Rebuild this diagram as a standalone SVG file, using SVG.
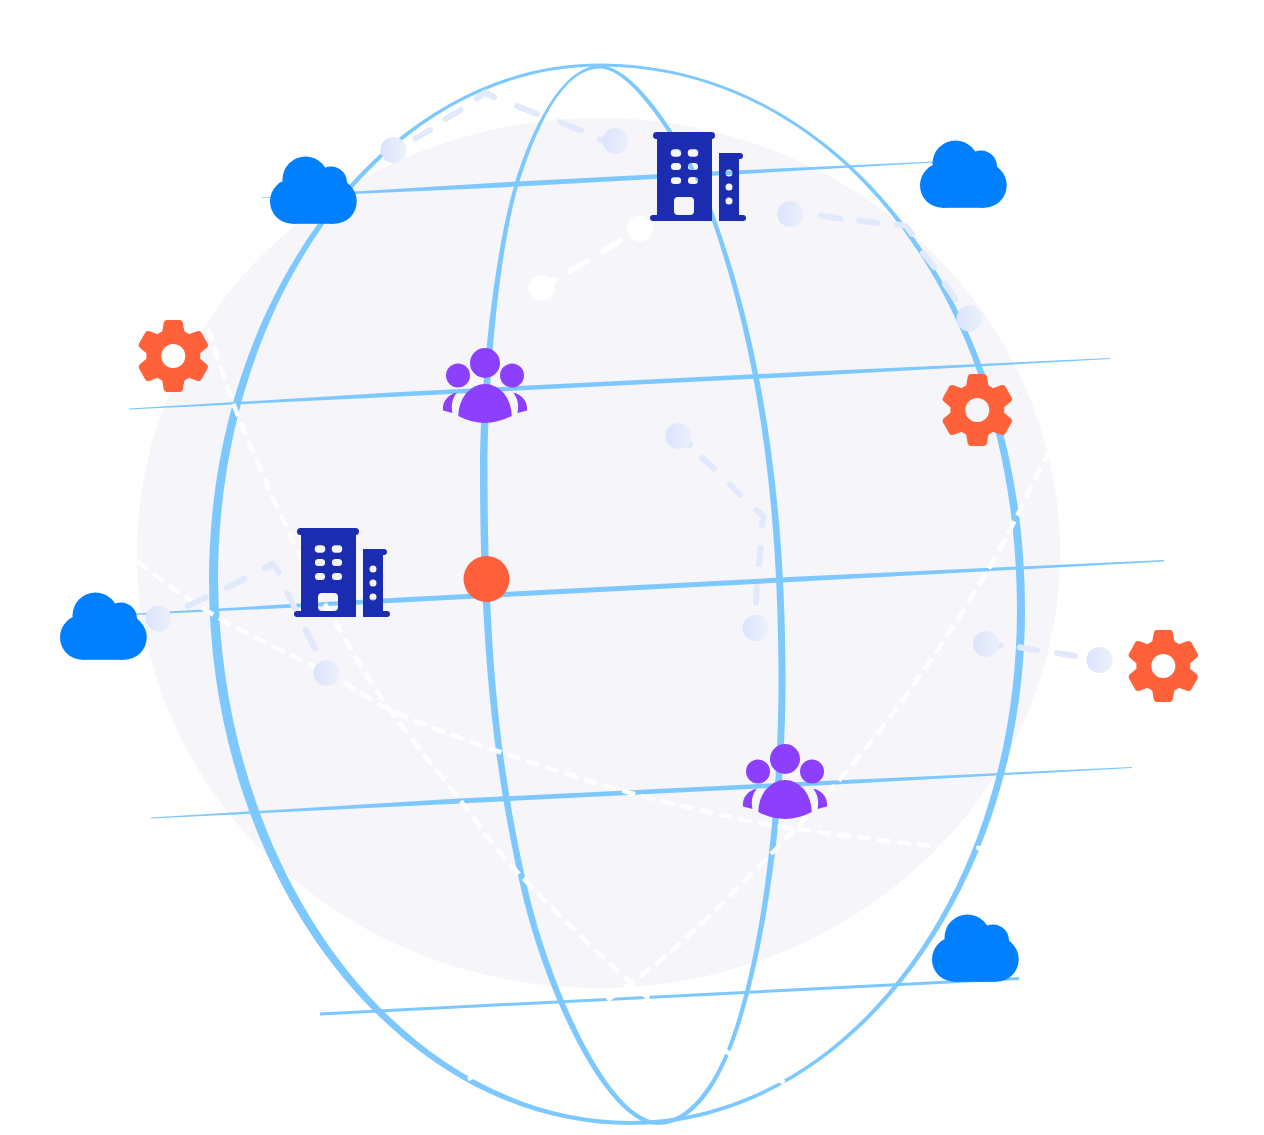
<svg xmlns="http://www.w3.org/2000/svg" width="1264" height="1135" viewBox="0 0 1264 1135">
<style>
.blue{fill:#7cc8ff;fill-rule:evenodd}
.wd{fill:none;stroke:#fff;stroke-width:4.500;stroke-dasharray:13.500 6.500}
.ld{fill:none;stroke:#e2e9fc;stroke-width:6;stroke-linecap:round;stroke-linejoin:round}
.wl{fill:none;stroke:#fff;stroke-width:6;stroke-linecap:round}
.dot{fill:url(#dg)}
.cl{fill:#0080ff}.ge{fill:#ff623a}.bu{fill:#1b2cb0;fill-rule:evenodd}.pe{fill:#8c3ffc}
</style>
<defs>
<linearGradient id="dg"><stop offset="0" stop-color="#dbe4fc"/><stop offset="1" stop-color="#ecf0fb"/></linearGradient>
<g id="cloud"><circle cx="22.500" cy="44.800" r="22.500"/><circle cx="64.200" cy="44.800" r="22.500"/><circle cx="35.500" cy="23" r="23"/><circle cx="61" cy="26" r="16"/><rect x="22" y="20" width="42" height="47.300"/></g>
<path id="tooth" d="M-6.500-36H6.500Q9-36 9.600-33L11.500-22H-11.500L-9.600-33Q-9-36-6.500-36Z"/>
<g id="gear"><path fill-rule="evenodd" d="M0-27A27 27 0 1 1 0 27A27 27 0 1 1 0-27ZM0-12A12 12 0 1 0 0 12A12 12 0 1 0 0-12Z"/><use href="#tooth"/><use href="#tooth" transform="rotate(60)"/><use href="#tooth" transform="rotate(120)"/><use href="#tooth" transform="rotate(180)"/><use href="#tooth" transform="rotate(240)"/><use href="#tooth" transform="rotate(300)"/></g>
<path id="building" d="M6.500 0H61.500A3.500 3.500 0 0 1 61.500 7H62V89H3A3 3 0 0 1 3 83H7V7H6.500A3.500 3.500 0 0 1 6.500 0ZM28 65Q24 65 24 69V79Q24 83 28 83H40Q44 83 44 79V69Q44 65 40 65ZM24.400 17.300A3.700 3.700 0 0 0 24.400 24.700H27.600A3.700 3.700 0 0 0 27.600 17.300ZM41.400 17.300A3.700 3.700 0 0 0 41.400 24.700H44.600A3.700 3.700 0 0 0 44.600 17.300ZM24.400 31A3.500 3.500 0 0 0 24.400 38H27.600A3.500 3.500 0 0 0 27.600 31ZM41.400 31A3.500 3.500 0 0 0 41.400 38H44.600A3.500 3.500 0 0 0 44.600 31ZM24.400 45A3.500 3.500 0 0 0 24.400 52H27.600A3.500 3.500 0 0 0 27.600 45ZM41.400 45A3.500 3.500 0 0 0 41.400 52H44.600A3.500 3.500 0 0 0 44.600 45ZM69 21H90A3 3 0 0 1 90 27H89V83H93A3 3 0 0 1 93 89H69ZM79 37.500A3.500 3.500 0 1 0 79 44.500A3.500 3.500 0 1 0 79 37.500ZM79 51.500A3.500 3.500 0 1 0 79 58.500A3.500 3.500 0 1 0 79 51.500ZM79 65.500A3.500 3.500 0 1 0 79 72.500A3.500 3.500 0 1 0 79 65.500Z"/>
<g id="people"><circle cx="0" cy="0" r="15"/><circle cx="-27" cy="12.500" r="12"/><circle cx="27" cy="12.500" r="12"/><path d="M-26.700 53A26.700 32 0 0 1 26.700 53Q0 67-26.700 53Z"/><path d="M-28.300 29.700C-37 31-43 39-42 47.500L-32.500 50C-34 42-33 36-28.300 29.700Z"/><path d="M28.300 29.700C37 31 43 39 42 47.500L32.500 50C34 42 33 36 28.300 29.700Z"/></g>
</defs>
<rect width="1264" height="1135" fill="#fff"/>
<ellipse id="backdrop" cx="598.500" cy="553" rx="461.500" ry="435" fill="#f5f5fa"/>
<g id="connectors">
<g id="globe">
<path class="blue" d="M600 63.500C838 63.500 1025 302 1025 610C1025 893 846 1125 630 1125C400 1125 209 880 209 580C209 296 386.500 63.500 600 63.500ZM600 66.500C386.500 66.500 218 298 218 580C221 880 406 1120 630 1121C846 1121 1017 893 1017 610C1017 302 838 66.500 600 66.500Z"/>
<path class="blue" d="M600 65.500C634 65.500 676.800 134.200 701.800 182.200C762.500 332 785.500 500 785.500 680C785.500 830 761 976 729.800 1052.800C717.800 1082 695 1125 658 1125C608 1125 549 1001 524 901C494 776 480 650 480 470C480 380 495 247.500 515.100 182.400C532 128.400 562 65.500 600 65.500ZM600 68.500C562 68.500 536 129.600 518.900 183.600C499 248.500 487.500 380 487.500 470C487.500 650 500 774 530 899C555 999 612 1121 658 1121C691 1121 714.200 1080 726.200 1051.200C757 974.300 778.500 830 778.500 680C778.500 500 757.500 334 698.200 183.800C673.200 135.800 630 68.500 600 68.500Z"/>
<path class="blue" d="M262 197.200L500 182.500L700 172L935 161.500V162.500L700 176.500L500 187.500L262 198Z"/>
<path class="blue" d="M129 408.500L400 392L800 372L1110 358V359L800 376.500L400 396.500L129 409.500Z"/>
<path class="blue" d="M135 613.500L400 597.500L800 576.500L1164 560V561.500L800 581.500L400 602.500L135 615Z"/>
<path class="blue" d="M151 817.500L450 799L800 782L1132 767V768L800 786.500L450 804L151 818.500Z"/>
<path class="blue" d="M320 1012.500L1019 977V980L320 1015.500Z"/>
</g>
<path class="wd" d="M208 328C217 355 222.500 376 235 408C247.500 440 268.300 488 283 520C297.700 552 306.300 570 323 600C339.700 630 360.200 666.700 383 700C405.800 733.300 437.200 770.800 460 800C482.800 829.200 488.300 841.700 520 875C551.700 908.300 615.500 970.500 650 1000C684.500 1029.500 704.500 1038.200 727 1052C749.500 1065.800 767 1074 785 1083"/>
<path class="wd" d="M137 561C163 581 185.300 598.300 217 617C248.700 635.700 297.300 657.200 327 673C356.700 688.800 366.200 698.800 395 712C423.800 725.200 462.500 739 500 752C537.500 765 586.700 780.300 620 790C653.300 799.700 672.800 803.800 700 810C727.200 816.200 744.200 821 783 827C821.800 833 900.200 842.500 933 846C965.800 849.500 965 848 980 848"/>
<path class="wd" d="M1050 450C1033 482 1012 530 985 575C958 620 923 673.800 888 720C852.700 766.200 815.500 808.300 773 852C730.500 895.700 684 944 633 982C582 1020 520 1050 467 1080"/>
<path id="link-1" class="ld" d="M415.300 138.500L430 130M445.500 119L460.500 110M476.500 98.500L485 92.500L494 97M517 106L537 114M560 122L581 130.500M600 139.500L603 140"/>
<path id="link-2" class="ld" d="M821 215.500L840 218.500M859 220.500L877 223M897 224.500L906 226L912 234M923 253L934 267M945 284L955 299"/>
<path id="link-3" class="wl" d="M551 282L554 280M570 271L587 261M603 251L620 241"/>
<path id="link-4" class="ld" d="M688 444L690 445M702.500 458L714 468.500M730 484.500L740 494.500M756.500 510L763.500 516.500L762 525M760.800 548L759 564M756.800 587L756 602"/>
<path id="link-5" class="ld" d="M188 606L205.500 597.500M227 588L244 579M265 568L272.500 564L278.500 572M287.500 593.500L298 614M305.500 630L315 648"/>
<path id="link-6" class="ld" d="M999 645.500L1001 645.800M1019.700 647.300L1037 650.400M1057 653L1075 656"/>
</g>
<g id="dots">
<circle class="dot" cx="393.500" cy="150" r="13"/><circle class="dot" cx="615.500" cy="141" r="13"/>
<circle class="dot" cx="790.500" cy="214" r="13"/><circle class="dot" cx="969.500" cy="318.500" r="13"/>
<circle fill="#fff" cx="541.500" cy="288" r="13"/><circle fill="#fff" cx="640" cy="228.500" r="13"/>
<circle class="dot" cx="678.500" cy="436" r="13"/><circle class="dot" cx="755.500" cy="628" r="13"/>
<circle class="dot" cx="158.500" cy="618.500" r="13"/><circle class="dot" cx="326.500" cy="673" r="13"/>
<circle class="dot" cx="986" cy="644" r="13"/><circle class="dot" cx="1099.500" cy="660" r="13"/>
</g>
<g id="cloud-1" class="cl"><use href="#cloud" x="270" y="156.500"/></g>
<g id="cloud-2" class="cl"><use href="#cloud" x="920" y="140.500"/></g>
<g id="cloud-3" class="cl"><use href="#cloud" x="60" y="592.500"/></g>
<g id="cloud-4" class="cl"><use href="#cloud" x="932" y="914.500"/></g>
<g id="gear-1" class="ge"><use href="#gear" x="173.300" y="356"/></g>
<g id="gear-2" class="ge"><use href="#gear" x="977.300" y="410"/></g>
<g id="gear-3" class="ge"><use href="#gear" x="1163.300" y="666"/></g>
<g id="building-1" class="bu"><use href="#building" x="650" y="132"/></g>
<g id="building-2" class="bu"><use href="#building" x="294" y="528"/></g>
<g id="people-1" class="pe"><use href="#people" x="485" y="363"/></g>
<g id="people-2" class="pe"><use href="#people" x="785" y="759"/></g>
<circle id="center" cx="486.500" cy="579" r="23" fill="#ff603b"/>
</svg>
